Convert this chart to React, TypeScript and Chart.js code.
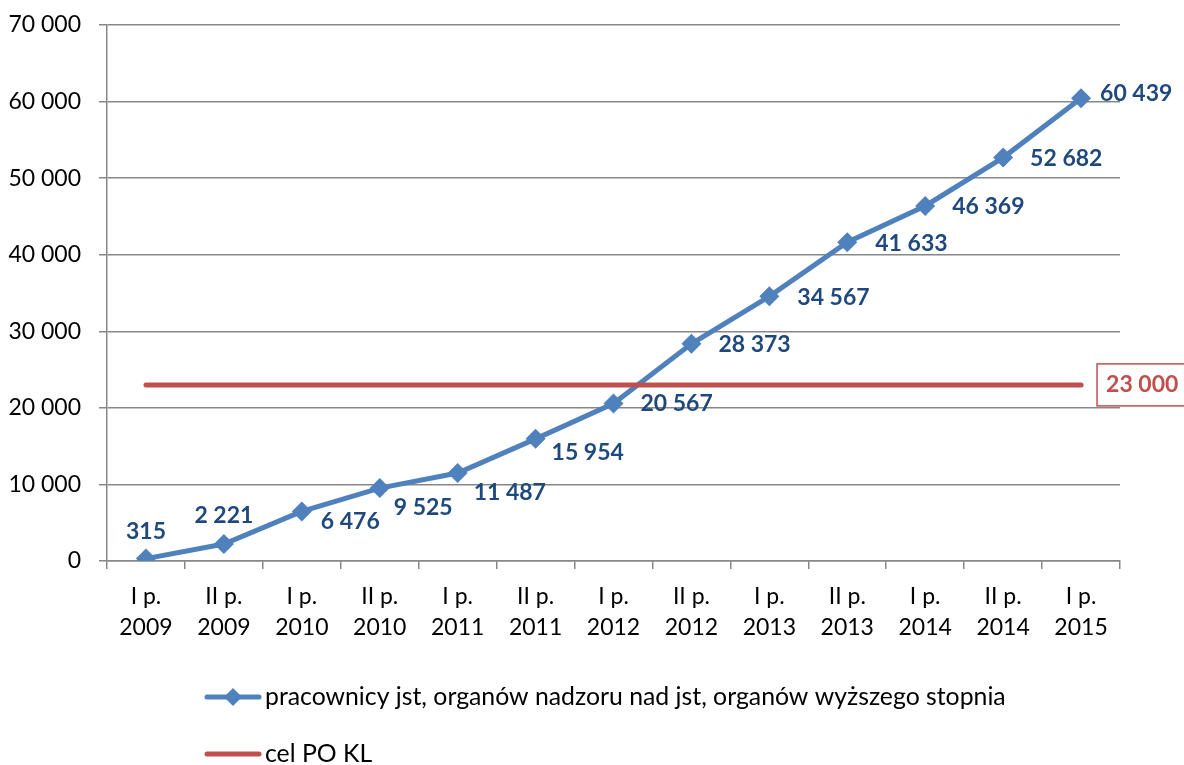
import React, { useEffect, useRef } from "react";
import { Chart, registerables } from "chart.js";

Chart.register(...registerables);

const CATEGORIES: string[][] = [
  ["I p.", "2009"], ["II p.", "2009"], ["I p.", "2010"], ["II p.", "2010"],
  ["I p.", "2011"], ["II p.", "2011"], ["I p.", "2012"], ["II p.", "2012"],
  ["I p.", "2013"], ["II p.", "2013"], ["I p.", "2014"], ["II p.", "2014"],
  ["I p.", "2015"],
];

const WORKERS: number[] = [315, 2221, 6476, 9525, 11487, 15954, 20567, 28373, 34567, 41633, 46369, 52682, 60439];
const TARGET: number[] = [23000, 23000, 23000, 23000, 23000, 23000, 23000, 23000, 23000, 23000, 23000, 23000, 23000];

const SERIES_NAMES = [
  "pracownicy jst, organów nadzoru nad jst, organów wyższego stopnia",
  "cel PO KL",
];

const Y_MIN = 0;
const Y_MAX = 70000;
const Y_STEP = 10000;

// label placement (style config)
const LABEL_POS: { align: CanvasTextAlign; dx: number; dy: number }[] = [
  { align: "center", dx: 0, dy: -27 },
  { align: "center", dx: 0, dy: -28 },
  { align: "left", dx: 19, dy: 10 },
  { align: "left", dx: 14, dy: 20 },
  { align: "left", dx: 16, dy: 20 },
  { align: "left", dx: 16, dy: 14 },
  { align: "left", dx: 27, dy: 0 },
  { align: "left", dx: 27, dy: 1 },
  { align: "left", dx: 28, dy: 1 },
  { align: "left", dx: 28, dy: 1 },
  { align: "left", dx: 27, dy: 1 },
  { align: "left", dx: 27, dy: 1 },
  { align: "left", dx: 19, dy: -5 },
];

const BLUE = "#4F81BD";
const LABEL_BLUE = "#1F497D";
const RED = "#C0504D";
const GRID = "#878787";
const FONT = "Lato";

const fmt = (v: number) => String(v).replace(/\B(?=(\d{3})+(?!\d))/g, " ");

const labelsPlugin = {
  id: "customLabels",
  afterDatasetsDraw(chart: any) {
    const ctx: CanvasRenderingContext2D = chart.ctx;
    ctx.save();
    const meta0 = chart.getDatasetMeta(0);
    ctx.font = `bold 23px ${FONT}`;
    ctx.fillStyle = LABEL_BLUE;
    ctx.textBaseline = "middle";
    meta0.data.forEach((pt: any, i: number) => {
      const p = LABEL_POS[i];
      ctx.textAlign = p.align;
      ctx.fillText(fmt(WORKERS[i]), pt.x + p.dx, pt.y + p.dy);
    });
    // target label box
    const meta1 = chart.getDatasetMeta(1);
    const last = meta1.data[meta1.data.length - 1];
    if (last) {
      const bx = last.x + 16;
      const by = last.y - 21;
      ctx.fillStyle = "#ffffff";
      ctx.fillRect(bx, by, 100, 42);
      ctx.strokeStyle = RED;
      ctx.lineWidth = 1.5;
      ctx.strokeRect(bx, by, 100, 42);
      ctx.fillStyle = RED;
      ctx.textAlign = "left";
      ctx.fillText(fmt(TARGET[TARGET.length - 1]), bx + 9, last.y);
    }
    ctx.restore();
  },
  afterDraw(chart: any) {
    const ctx: CanvasRenderingContext2D = chart.ctx;
    ctx.save();
    const rows = [
      { y: 697, color: BLUE, marker: true, text: SERIES_NAMES[0] },
      { y: 754, color: RED, marker: false, text: SERIES_NAMES[1] },
    ];
    rows.forEach((r) => {
      ctx.strokeStyle = r.color;
      ctx.lineWidth = 5;
      ctx.lineCap = "round";
      ctx.beginPath();
      ctx.moveTo(207, r.y);
      ctx.lineTo(259, r.y);
      ctx.stroke();
      if (r.marker) {
        ctx.fillStyle = r.color;
        ctx.beginPath();
        ctx.moveTo(233, r.y - 9);
        ctx.lineTo(242, r.y);
        ctx.lineTo(233, r.y + 9);
        ctx.lineTo(224, r.y);
        ctx.closePath();
        ctx.fill();
      }
      ctx.fillStyle = "#000000";
      ctx.font = `24.8px ${FONT}`;
      ctx.textBaseline = "middle";
      ctx.textAlign = "left";
      ctx.fillText(r.text, 265, r.y);
    });
    ctx.restore();
  },
};

export default function App() {
  const ref = useRef<HTMLCanvasElement | null>(null);
  useEffect(() => {
    if (!ref.current) return;
    const chart = new Chart(ref.current, {
      type: "line",
      data: {
        labels: CATEGORIES,
        datasets: [
          {
            label: SERIES_NAMES[0],
            data: WORKERS,
            borderColor: BLUE,
            backgroundColor: BLUE,
            borderWidth: 5,
            pointStyle: "rectRot",
            pointRadius: 10,
            pointBorderWidth: 0,
            pointBackgroundColor: BLUE,
            tension: 0,
            order: 1,
          },
          {
            label: SERIES_NAMES[1],
            data: TARGET,
            borderColor: RED,
            backgroundColor: RED,
            borderWidth: 5,
            borderCapStyle: "round",
            pointRadius: 0,
            tension: 0,
            order: 0,
          },
        ],
      },
      options: {
        animation: false,
        responsive: false,
        layout: { padding: { left: 0, top: 25, right: 64, bottom: 0 } },
        plugins: { legend: { display: false }, tooltip: { enabled: false } },
        scales: {
          x: {
            type: "category",
            offset: true,
            grid: {
              offset: true,
              drawOnChartArea: false,
              drawTicks: true,
              tickLength: 8,
              color: GRID,
              lineWidth: 1.5,
            },
            border: { color: GRID, width: 1.5 },
            ticks: {
              color: "#000000",
              font: { family: FONT, size: 23, lineHeight: 1.35 },
              padding: 12,
              maxRotation: 0,
              autoSkip: false,
            },
            afterFit(scale: any) {
              scale.height = 204;
            },
          },
          y: {
            min: Y_MIN,
            max: Y_MAX,
            grid: { color: GRID, lineWidth: 1.5, tickLength: 8 },
            border: { color: GRID, width: 1.5 },
            ticks: {
              stepSize: Y_STEP,
              color: "#000000",
              font: { family: FONT, size: 23 },
              padding: 18,
              callback: (v: any) => fmt(Number(v)),
            },
            afterFit(scale: any) {
              scale.width = 107;
              scale.paddingTop = 0;
              scale.paddingBottom = 0;
            },
          },
        },
      },
      plugins: [labelsPlugin],
    });
    return () => chart.destroy();
  }, []);
  return (
    <div style={{ position: "absolute", left: 0, top: 0, width: 1184, height: 765, background: "#ffffff" }}>
      <canvas ref={ref} width={1184} height={765} style={{ display: "block" }} />
    </div>
  );
}
